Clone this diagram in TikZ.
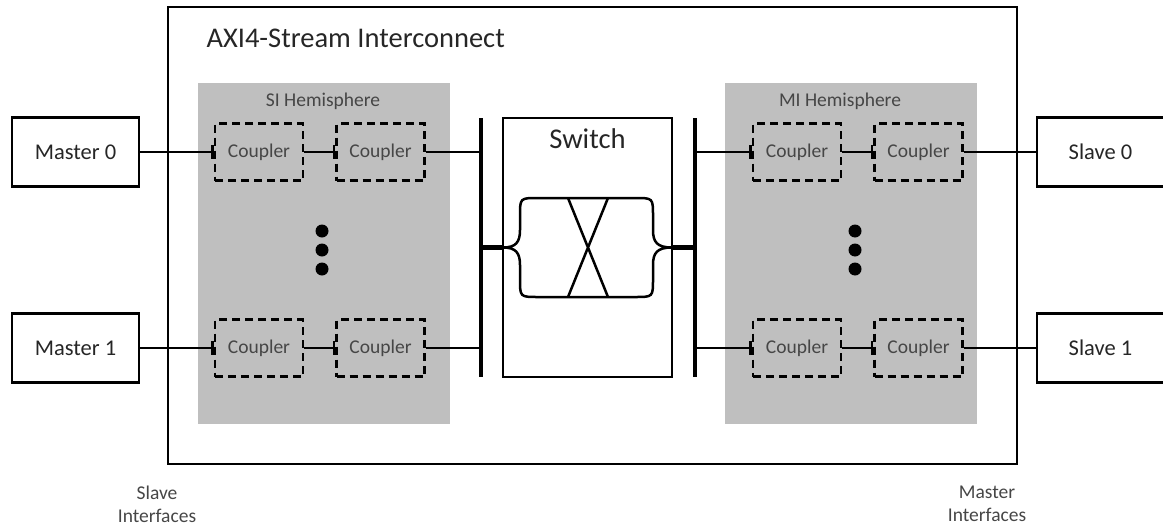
\documentclass[tikz,border=0pt]{standalone}
\usepackage{fontspec}
\setmainfont{Carlito}
\usepackage{xcolor}
\usepackage{tikz}
\usetikzlibrary{positioning, arrows.meta}

\definecolor{hemigray}{RGB}{191,191,191}
\definecolor{txtgray}{RGB}{70,70,70}

\tikzset{
  port/.style = {draw, line width=2.5pt, minimum width=127pt, minimum height=69pt,
    text=black!85, font=\fontsize{22.5}{27}\selectfont},
  coupler/.style = {draw, dash pattern=on 8pt off 5pt, line width=2.5pt,
    minimum width=88pt, minimum height=57pt, text=txtgray,
    font=\fontsize{19.5}{23}\selectfont},
  hemi/.style = {fill=hemigray, minimum width=252pt, minimum height=341pt},
  note/.style = {align=center, text=txtgray, font=\fontsize{19.5}{23}\selectfont},
  link/.style = {line width=2.5pt},
  tolink/.style = {line width=2.5pt, -{Bar[width=14pt]}},
  bus/.style = {line width=4.5pt}
}

\begin{document}
\begin{tikzpicture} [x=1pt, y=-1pt, node distance=31pt]
        \useasboundingbox (0,0) rectangle (1163,525);

        % interconnect frame
        \node (frame) [draw, line width=2.5pt, minimum width=849pt, minimum height=457pt] at (592.5,235.5) {};
        \node (title) [anchor=base west, text=black!85, font=\fontsize{28.5}{34}\selectfont] at (203,47) {AXI4-Stream Interconnect};

        % hemispheres
        \node (si) [hemi] at (324,253.5) {}; \node (mi) [hemi] at (851,253.5) {};
        \node (silabel) [note] at (323,101) {SI Hemisphere};
        \node (milabel) [note] at (840,101) {MI Hemisphere};

        \node (si0a) [coupler] at (259,152) {Coupler}; \node (si0b) [coupler, right = of si0a] {Coupler};
        \node (si1a) [coupler] at (259,348) {Coupler}; \node (si1b) [coupler, right = of si1a] {Coupler};
        \node (mi0a) [coupler] at (797,152) {Coupler}; \node (mi0b) [coupler, right = of mi0a] {Coupler};
        \node (mi1a) [coupler] at (797,348) {Coupler}; \node (mi1b) [coupler, right = of mi1a] {Coupler};

        \foreach \y in {231,250,269} {
          \fill (322,\y) circle[radius=6.5pt];
          \fill (855,\y) circle[radius=6.5pt];
        }

        % masters and slaves
        \node (m0) [port] at (75.5,152) {Master 0}; \node (m1) [port] at (75.5,348) {Master 1};
        \node (s0) [port] at (1100.5,152) {Slave 0}; \node (s1) [port] at (1100.5,348) {Slave 1};

        % switch
        \node (sw) [draw, line width=2.5pt, minimum width=169pt, minimum height=259pt] at (587.5,247.5) {};
        \node (swlabel) [text=black!85, font=\fontsize{28.6}{34}\selectfont] at (587.5,139) {Switch};
        \draw [line width=2.5pt]
         (503,247.5) .. controls (516,247.5) and (520,242) .. (520,230) -- (520,216)
         .. controls (520,198) .. (538,198) -- (635,198) .. controls (653,198) .. (653,216)
         -- (653,230) .. controls (653,242) and (657,247.5) .. (672,247.5)
         .. controls (657,247.5) and (653,253) .. (653,265) -- (653,279)
         .. controls (653,297) .. (635,297) -- (538,297) .. controls (520,297) .. (520,279)
         -- (520,265) .. controls (520,253) and (516,247.5) .. (503,247.5);
        \draw [line width=2.5pt] (568,198) -- (608,297) (608,198) -- (568,297);

        % buses
        \coordinate (lbt) at (481,118); \coordinate (lbb) at (481,377);
        \coordinate (rbt) at (695,118); \coordinate (rbb) at (695,377);
        \draw [bus] (lbt) -- (lbb) (rbt) -- (rbb);
        \draw [bus] (sw.west -| lbt) -- (sw.west) (sw.east) -- (sw.east -| rbt);

        \draw
         (m0) edge [tolink] (si0a) (si0a) edge [tolink] (si0b) (si0b) edge [link] (si0b -| lbt)
         (m1) edge [tolink] (si1a) (si1a) edge [tolink] (si1b) (si1b) edge [link] (si1b -| lbt)
         (mi0a -| rbt) edge [tolink] (mi0a) (mi0a) edge [tolink] (mi0b) (mi0b) edge [link] (s0)
         (mi1a -| rbt) edge [tolink] (mi1a) (mi1a) edge [tolink] (mi1b) (mi1b) edge [link] (s1);

        \node (slif) [note] at (157,504) {Slave\\Interfaces};
        \node (mif) [note] at (987,504) {Master\\Interfaces};

\end{tikzpicture}
\end{document}
